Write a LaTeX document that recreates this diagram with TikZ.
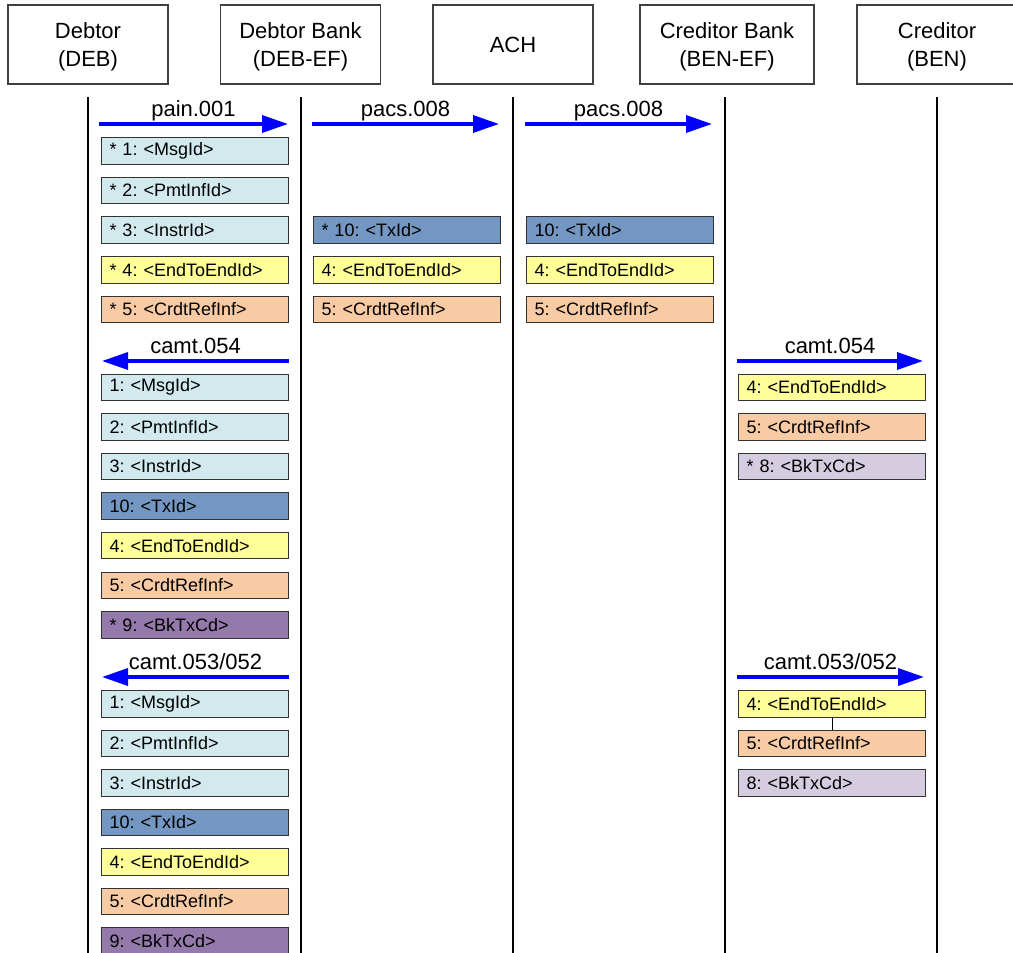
\documentclass[tikz,border=0pt]{standalone}
\usepackage{fontspec}
\setmainfont{Liberation Sans}
\usetikzlibrary{arrows.meta}
\definecolor{fLight}{HTML}{D2E9EE}
\definecolor{fSteel}{HTML}{7397C2}
\definecolor{fYellow}{HTML}{FFFF99}
\definecolor{fPeach}{HTML}{F9CBA5}
\definecolor{fLav}{HTML}{D5CCE0}
\definecolor{fPurple}{HTML}{9479AB}
\definecolor{msgBlue}{HTML}{0000FF}
\newcommand{\hstrut}{\rule{0pt}{21pt}}
\begin{document}
\frenchspacing
\begin{tikzpicture}[x=1pt,y=-1pt,
  hdr/.style={draw=black!75, line width=1.3pt, minimum width=160pt, minimum height=79pt, align=center, inner sep=0pt, font=\fontsize{22}{27.5}\selectfont},
  lane/.style={line width=2pt, draw=black},
  msg/.style={draw=msgBlue, line width=3.5pt, -{Triangle[length=26pt,width=17pt,fill=msgBlue]}},
  lbl/.style={font=\fontsize{22}{26}\selectfont, anchor=base, yshift=7.5pt, inner sep=0pt},
  fld/.style={draw=black!80, line width=1pt, anchor=north west, minimum height=26.5pt, text width=171pt, inner xsep=8pt, inner ysep=0pt, align=left, font=\fontsize{18}{20}\selectfont},
  tie/.style={draw=black, line width=0.8pt},
]
\useasboundingbox (0,0) rectangle (1013,953);
\fill[white] (0,0) rectangle (1013,953);

% headers
\node[hdr] (deb) at (88,44.5) {\hstrut Debtor\\(DEB)};
\node[hdr] (debb) at (300.5,44.5) {\hstrut Debtor Bank\\(DEB-EF)};
\node[hdr] (ach) at (513,44.5) {ACH};
\node[hdr, minimum width=174pt] (credb) at (727,44.5) {\hstrut Creditor Bank\\(BEN-EF)};
\node[hdr] (cred) at (937,44.5) {\hstrut Creditor\\(BEN)};

% lifelines
\coordinate (t1) at (88,97);  \coordinate (u1) at (88,955);
\coordinate (t2) at (301,97); \coordinate (u2) at (301,955);
\coordinate (t3) at (513,97); \coordinate (u3) at (513,955);
\coordinate (t4) at (725,97); \coordinate (u4) at (725,955);
\coordinate (t5) at (937,97); \coordinate (u5) at (937,955);
\draw[lane] (t1) -- (u1);
\draw[lane] (t2) -- (u2);
\draw[lane] (t3) -- (u3);
\draw[lane] (t4) -- (u4);
\draw[lane] (t5) -- (u5);

% message arrows
\coordinate (m1s) at (99,124);  \coordinate (m1e) at (288,124);
\coordinate (m2s) at (312,124); \coordinate (m2e) at (499,124);
\coordinate (m3s) at (525,124); \coordinate (m3e) at (712,124);
\coordinate (m4s) at (289,361); \coordinate (m4e) at (102,361);
\coordinate (m5s) at (737,361); \coordinate (m5e) at (923,361);
\coordinate (m6s) at (289,677); \coordinate (m6e) at (102,677);
\coordinate (m7s) at (737,677); \coordinate (m7e) at (924,677);
\draw[msg] (m1s) -- (m1e) node[lbl, pos=0.5] {pain.001};
\draw[msg] (m2s) -- (m2e) node[lbl, pos=0.5] {pacs.008};
\draw[msg] (m3s) -- (m3e) node[lbl, pos=0.5] {pacs.008};
\draw[msg] (m4s) -- (m4e) node[lbl, pos=0.5] {camt.054};
\draw[msg] (m5s) -- (m5e) node[lbl, pos=0.5] {camt.054};
\draw[msg] (m6s) -- (m6e) node[lbl, pos=0.5] {camt.053/052};
\draw[msg] (m7s) -- (m7e) node[lbl, pos=0.5] {camt.053/052};

% pain.001 fields
\node[fld, fill=fLight]  (a1) at (101,137)   {* 1: <MsgId>};
\node[fld, fill=fLight]  (a2) at (101,176.7) {* 2: <PmtInfId>};
\node[fld, fill=fLight]  (a3) at (101,216.4) {* 3: <InstrId>};
\node[fld, fill=fYellow] (a4) at (101,256.1) {* 4: <EndToEndId>};
\node[fld, fill=fPeach]  (a5) at (101,295.8) {* 5: <CrdtRefInf>};

% pacs.008 fields (debtor bank -> ACH)
\node[fld, fill=fSteel]  (b1) at (313,216.4) {* 10: <TxId>};
\node[fld, fill=fYellow] (b2) at (313,256.1) {4: <EndToEndId>};
\node[fld, fill=fPeach]  (b3) at (313,295.8) {5: <CrdtRefInf>};

% pacs.008 fields (ACH -> creditor bank)
\node[fld, fill=fSteel]  (c1) at (526,216.4) {10: <TxId>};
\node[fld, fill=fYellow] (c2) at (526,256.1) {4: <EndToEndId>};
\node[fld, fill=fPeach]  (c3) at (526,295.8) {5: <CrdtRefInf>};

% camt.054 fields (debtor)
\node[fld, fill=fLight]  (d1) at (101,373.5) {1: <MsgId>};
\node[fld, fill=fLight]  (d2) at (101,413.1) {2: <PmtInfId>};
\node[fld, fill=fLight]  (d3) at (101,452.7) {3: <InstrId>};
\node[fld, fill=fSteel]  (d4) at (101,492.3) {10: <TxId>};
\node[fld, fill=fYellow] (d5) at (101,531.9) {4: <EndToEndId>};
\node[fld, fill=fPeach]  (d6) at (101,571.5) {5: <CrdtRefInf>};
\node[fld, fill=fPurple] (d7) at (101,611.1) {* 9: <BkTxCd>};

% camt.054 fields (creditor)
\node[fld, fill=fYellow] (e1) at (738,373.5) {4: <EndToEndId>};
\node[fld, fill=fPeach]  (e2) at (738,413.1) {5: <CrdtRefInf>};
\node[fld, fill=fLav]    (e3) at (738,452.7) {* 8: <BkTxCd>};

% camt.053/052 fields (debtor)
\node[fld, fill=fLight]  (f1) at (101,690)   {1: <MsgId>};
\node[fld, fill=fLight]  (f2) at (101,729.5) {2: <PmtInfId>};
\node[fld, fill=fLight]  (f3) at (101,769)   {3: <InstrId>};
\node[fld, fill=fSteel]  (f4) at (101,808.5) {10: <TxId>};
\node[fld, fill=fYellow] (f5) at (101,848)   {4: <EndToEndId>};
\node[fld, fill=fPeach]  (f6) at (101,887.5) {5: <CrdtRefInf>};
\node[fld, fill=fPurple] (f7) at (101,927)   {9: <BkTxCd>};

% camt.053/052 fields (creditor)
\node[fld, fill=fYellow] (g1) at (738,690)   {4: <EndToEndId>};
\node[fld, fill=fPeach]  (g2) at (738,729.5) {5: <CrdtRefInf>};
\node[fld, fill=fLav]    (g3) at (738,769)   {8: <BkTxCd>};
\draw[tie] (g1.south) -- (g2.north);
\end{tikzpicture}
\end{document}
